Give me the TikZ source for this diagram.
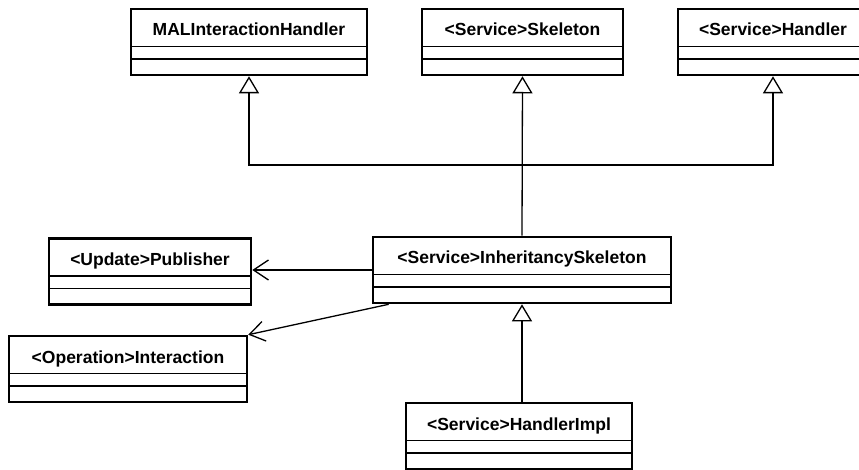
\documentclass[tikz,border=0pt]{standalone}
\usepackage{fontspec}
\setmainfont{Liberation Sans}
\usepackage{tikz}
\usetikzlibrary{arrows.meta}

\tikzset{
  umlclass/.style={draw, line width=2.6pt, inner xsep=0pt, inner ysep=0pt,
    text height=27pt, text depth=39pt, font=\bfseries\fontsize{17.5}{20}\selectfont,
    path picture={
      \draw[line width=1.2pt] ([yshift=-37.5pt]path picture bounding box.north west) -- ([yshift=-37.5pt]path picture bounding box.north east);
      \draw[line width=1.2pt] ([yshift=-50pt]path picture bounding box.north west) -- ([yshift=-50pt]path picture bounding box.north east);
    }},
  inherit/.style={line width=1.3pt, -{Triangle[open, length=17pt, width=20pt]}},
  assoc/.style={line width=1.3pt, -{Straight Barb[length=15pt, width=20pt]}},
}

\begin{document}
\begin{tikzpicture}[x=1pt, y=-1pt]
\useasboundingbox (0,0) rectangle (859,470);
\node[umlclass, minimum width=236pt] (mal) at (249, 42) {MALInteractionHandler};
\node[umlclass, minimum width=201pt] (skel) at (522.5, 42) {<Service>Skeleton};
\node[umlclass, minimum width=190pt] (hand) at (773, 42) {<Service>Handler};
\node[umlclass, minimum width=298pt] (inh) at (522, 270) {<Service>InheritancySkeleton};
\node[umlclass, minimum width=202pt] (pub) at (150, 271.5) {<Update>Publisher};
\node[umlclass, minimum width=238pt] (inter) at (128, 369) {<Operation>Interaction};
\node[umlclass, minimum width=226pt] (impl) at (519, 436) {<Service>HandlerImpl};
\coordinate (bus) at (522, 165);

% generalisations
\draw[inherit] (inh.north) -- (skel.south);
\draw[inherit] (bus) -| (mal.south);
\draw[inherit] (bus) -| (hand.south);
\draw[inherit] (impl.north -| inh.south) -- (inh.south);

% associations
\draw[assoc] (inh.west) -- (pub.east |- inh.west);
\draw[assoc] ([xshift=17pt]inh.south west) -- (inter.north east);
\end{tikzpicture}
\end{document}
